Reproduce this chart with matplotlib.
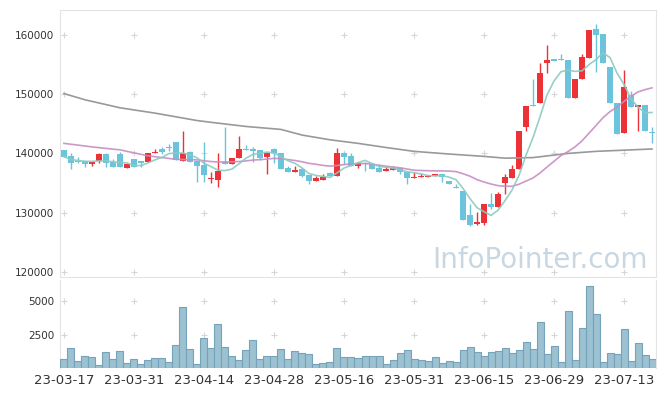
#!/usr/bin/env python3
"""
Daily candlestick chart with 5/20/long moving averages and a volume panel.
"""

import numpy as np
import pandas as pd
import matplotlib
matplotlib.use("Agg")
import matplotlib.pyplot as plt

# x tick labels, one every 10 trading days
tick_pos = [0, 10, 20, 30, 40, 50, 60, 70, 80]
tick_labels = ["23-03-17", "23-03-31", "23-04-14", "23-04-28", "23-05-16",
               "23-05-31", "23-06-15", "23-06-29", "23-07-13"]

opens = [140600, 139600, 138750, 138750, 138200, 138800, 139900, 138600, 139900, 137600,
         139000, 138700, 138600, 140000, 140750, 141100, 141950, 138800, 140250, 138750,
         138050, 135700, 135550, 138600, 138250, 139200, 140750, 140800, 140600, 139450,
         140700, 140050, 137500, 136950, 137350, 136350, 135400, 135550, 136700, 136250,
         140150, 139600, 137950, 138450, 138250, 137550, 137000, 137150, 137550, 136950,
         135900, 135950, 136100, 136250, 136550, 135350, 134400, 133650, 129600, 128100,
         128200, 131500, 131000, 134950, 135900, 137400, 144500, 148200, 148550, 155300,
         155900, 155950, 155800, 149400, 152500, 156150, 160950, 160100, 154650, 148450,
         143500, 149850, 147900, 148200, 143650]
highs = [140600, 140050, 139450, 138750, 138550, 140150, 140150, 139000, 140250, 138250,
         139000, 138700, 140050, 140750, 141150, 141600, 141950, 143800, 140400, 138750,
         141900, 136900, 140050, 144500, 139250, 142950, 141450, 141100, 140600, 140050,
         140900, 140050, 137900, 137950, 137550, 136350, 136200, 136500, 136950, 140900,
         140300, 140050, 138600, 138500, 138400, 138150, 137900, 137800, 137550, 136950,
         136800, 136750, 136400, 136600, 136550, 135350, 134900, 133650, 131400, 130050,
         131450, 133300, 133450, 136550, 138050, 143800, 148000, 152500, 155200, 158300,
         155900, 156750, 155800, 152550, 156750, 160850, 161850, 160100, 154650, 148450,
         154100, 150600, 148200, 148200, 144400]
lows = [139450, 137350, 138350, 137650, 137950, 138450, 137650, 137750, 137650, 137600,
        137650, 137750, 138600, 140000, 139900, 140400, 138850, 138800, 138600, 135200,
        135200, 134950, 134300, 138200, 138250, 139200, 140550, 138600, 138900, 136550,
        138400, 137400, 136900, 136850, 136000, 134850, 135400, 135550, 136250, 136250,
        138250, 137950, 137500, 137000, 137400, 136950, 137000, 137150, 136500, 134800,
        135900, 135950, 136000, 136250, 135200, 134800, 134150, 128800, 127800, 128000,
        128000, 130650, 131000, 133150, 135900, 137400, 143800, 148050, 148550, 153550,
        155650, 155800, 149400, 149400, 152500, 156150, 153700, 155200, 148450, 143250,
        143500, 147900, 143700, 143700, 141700]
closes = [139450, 138450, 138550, 138250, 138550, 139900, 138450, 137750, 137650, 138250,
          137650, 138450, 140050, 140200, 140300, 140900, 138850, 140050, 138600, 137950,
          136350, 135900, 137100, 138200, 139250, 140750, 140650, 140400, 139250, 140050,
          140100, 137400, 136950, 137100, 136200, 135400, 135800, 136100, 136250, 140050,
          139450, 137950, 138450, 138250, 137400, 136950, 137350, 137600, 136800, 135900,
          136100, 136250, 136250, 136600, 136100, 134800, 134150, 128800, 128000, 128450,
          131450, 131000, 133150, 136100, 137400, 143800, 148000, 148050, 153650, 155800,
          155650, 155800, 149400, 152550, 156300, 160850, 160050, 155200, 148450, 143250,
          151250, 147900, 148200, 143700, 143500]
volumes = [650, 1480, 525, 875, 800, 200, 1200, 650, 1275, 375,
           650, 275, 600, 725, 725, 450, 1700, 4550, 1400, 275,
           2225, 1480, 3275, 1550, 875, 575, 1325, 2075, 650, 875,
           875, 1400, 650, 1275, 1100, 1025, 275, 350, 450, 1480,
           800, 800, 725, 875, 875, 875, 275, 575, 1100, 1325,
           650, 575, 500, 800, 350, 500, 425, 1325, 1550, 1175,
           875, 1175, 1250, 1480, 1100, 1325, 1925, 1400, 3425, 1025,
           1625, 425, 4250, 575, 2975, 6125, 4025, 425, 1100, 1025,
           2900, 500, 1850, 950, 650]

ma20_early_idx = [0, 4, 8, 12, 16]
ma20_early = [141700, 141100, 140600, 139600, 139000]

# long moving average (gray)
ma_long_idx = [0, 3, 8, 13, 19, 21, 26, 31, 34, 38, 42, 46, 50, 55, 60, 63, 67, 72, 76, 80, 84]
ma_long = [150100, 149050, 147700, 146800, 145550, 145250, 144550, 144050, 143100, 142300,
           141700, 141000, 140350, 139900, 139500, 139200, 139300, 140000, 140350, 140550,
           140750]

price_ticks = [120000, 130000, 140000, 150000, 160000]
volume_ticks = [2500, 5000]

UP = "#ec3237"
DOWN = "#6cc4dc"
GRID = "#d6d6d6"
SPINE = "#e4e4e4"


def draw_price(ax):
    x = np.arange(len(closes))
    o = np.array(opens)
    c = np.array(closes)
    up = c > o
    colors = np.where(up, UP, DOWN)

    ax.vlines(x, lows, highs, colors=colors, lw=1.0, zorder=3)
    body = np.maximum(np.abs(c - o), 170)
    ax.bar(x, body, bottom=np.minimum(o, c), width=0.75, color=colors,
           linewidth=0, zorder=4)

    s = pd.Series(closes, dtype=float)
    ma5 = s.rolling(5, min_periods=1).mean()
    ma20 = s.rolling(20).mean()

    ax.plot(ma_long_idx, ma_long, color="#999999", lw=1.2, zorder=5)
    ax.plot(ma20_early_idx + list(range(19, len(s))),
            ma20_early + list(ma20.iloc[19:]),
            color="#c98cc3", lw=1.2, alpha=0.9, zorder=5)
    ax.plot(x, ma5, color="#8ccac1", lw=1.2, alpha=0.9, zorder=5)

    gx, gy = np.meshgrid(tick_pos, price_ticks)
    ax.plot(gx.ravel(), gy.ravel(), "+", color=GRID, ms=5, mew=0.8, zorder=1)

    ax.set_ylim(119150, 164200)
    ax.set_yticks(price_ticks)
    ax.set_yticklabels([str(v) for v in price_ticks])


def draw_volume(ax):
    x = np.arange(len(volumes))
    ax.bar(x, volumes, width=1.0, color="#9cc1d1", edgecolor="#74a3bb",
           linewidth=0.8, zorder=3)
    gx, gy = np.meshgrid(tick_pos, volume_ticks)
    ax.plot(gx.ravel(), gy.ravel(), "+", color=GRID, ms=5, mew=0.8, zorder=1)
    ax.set_ylim(0, 6600)
    ax.set_yticks(volume_ticks)
    ax.set_yticklabels([str(v) for v in volume_ticks])


def main():
    plt.rcParams["font.family"] = ["DejaVu Sans"]
    fig = plt.figure(figsize=(6.65, 3.96), dpi=100)
    W, H = 665.0, 396.0
    ax = fig.add_axes([60 / W, 1 - 277 / H, 596 / W, 267 / H])
    axv = fig.add_axes([60 / W, 1 - 368 / H, 596 / W, 88 / H], sharex=ax)

    draw_price(ax)
    draw_volume(axv)

    ax.set_xlim(-0.57, 84.57)
    axv.set_xticks(tick_pos)
    axv.set_xticklabels(tick_labels)
    ax.tick_params(axis="x", labelbottom=False, length=0)

    for a in (ax, axv):
        a.tick_params(axis="y", length=0, pad=4, labelsize=7.5, labelcolor="#333333")
        for sp in a.spines.values():
            sp.set_color(SPINE)
            sp.set_linewidth(0.8)
    axv.spines["top"].set_visible(False)
    axv.spines["bottom"].set_visible(False)
    axv.tick_params(axis="x", length=0, pad=4, labelsize=9.5, labelcolor="#333333")

    fig.text(648 / W, 1 - 268 / H, "InfoPointer.com", ha="right", va="baseline",
             fontsize=20, color="#c8d7e1", zorder=0)

    fig.savefig("out.png", dpi=100)
    plt.close(fig)


if __name__ == "__main__":
    main()
